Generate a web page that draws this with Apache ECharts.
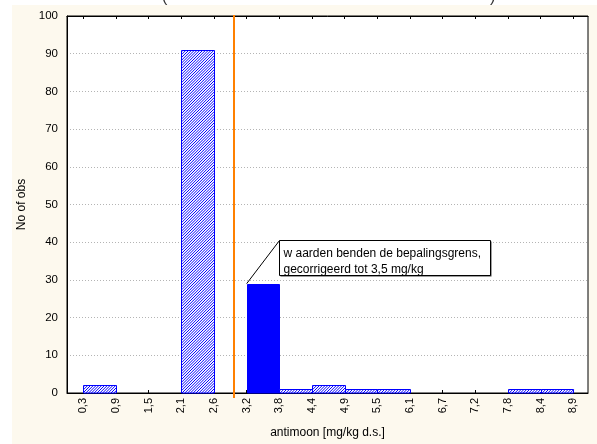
<!DOCTYPE html>
<html><head><meta charset="utf-8">
<script src="https://cdn.jsdelivr.net/npm/echarts@6/dist/echarts.min.js"></script>
<style>
html,body{margin:0;padding:0;background:#fff;}
#bg{position:absolute;left:12px;top:5px;width:585px;height:439px;background:#fdf9ee;}
#c{position:absolute;left:0;top:0;width:597px;height:444px;}
</style>
</head><body><div id="bg"></div><div id="c"></div>
<script>
// ---- data ----
const binEdgeLabels = ['0,3','0,9','1,5','2,1','2,6','3,2','3,8','4,4','4,9','5,5','6,1','6,7','7,2','7,8','8,4','8,9'];
const binCounts = [2, 0, 0, 91, 0, 29, 1, 2, 1, 1, 0, 0, 0, 1, 1];
const correctedBin = 5;          // bin whose values were corrected (solid bar)
const limitPosition = 4.62;      // orange line, in bin-edge index units
const xAxisName = 'antimoon [mg/kg d.s.]';
const yAxisName = 'No of obs';
const noteLines = ['w aarden benden de bepalingsgrens,', 'gecorrigeerd tot 3,5 mg/kg'];

const FONT = '"Liberation Sans", Arial, sans-serif';
const edgeIdx = binEdgeLabels.map((_, i) => i);

function hatchPath(x0, y0, x1, y1, step) {
  let d = '';
  for (let c = x0 + y0 + step / 2; c < x1 + y1; c += step) {
    const xa = Math.max(x0, c - y1), xb = Math.min(x1, c - y0);
    if (xb <= xa) continue;
    d += 'M' + xa.toFixed(2) + ' ' + (c - xa).toFixed(2) + 'L' + xb.toFixed(2) + ' ' + (c - xb).toFixed(2);
  }
  return d;
}

const chart = echarts.init(document.getElementById('c'), null, { renderer: 'canvas' });
const xMin = -0.5, xMax = 15.45;
chart.setOption({
  backgroundColor: 'transparent',
  animation: false,
  textStyle: { fontFamily: FONT },
  grid: { left: 67, top: 16, right: 9, bottom: 49, show: true, backgroundColor: '#ffffff', borderColor: '#000', borderWidth: 1 },
  xAxis: [{
    type: 'value', min: xMin, max: xMax, position: 'bottom',
    name: xAxisName, nameLocation: 'middle', nameGap: 34,
    nameTextStyle: { fontSize: 12, color: '#000', fontFamily: FONT },
    axisLine: { show: true, onZero: false, lineStyle: { color: '#000', width: 1 } },
    axisTick: { show: true, inside: true, length: 3, customValues: edgeIdx, lineStyle: { color: '#000' } },
    axisLabel: { show: true, customValues: edgeIdx, rotate: 90, margin: 5, fontSize: 11, color: '#000', fontFamily: FONT,
      formatter: v => binEdgeLabels[Math.round(v)] },
    splitLine: { show: false }
  }, {
    type: 'value', min: xMin, max: xMax, position: 'top',
    axisLine: { show: true, onZero: false, lineStyle: { color: '#000', width: 1 } },
    axisTick: { show: true, inside: true, length: 3, customValues: edgeIdx, lineStyle: { color: '#000' } },
    axisLabel: { show: false },
    splitLine: { show: false }
  }],
  yAxis: {
    type: 'value', min: 0, max: 100, interval: 10,
    name: yAxisName, nameLocation: 'middle', nameGap: 36,
    nameTextStyle: { fontSize: 12, color: '#000', fontFamily: FONT },
    axisLine: { show: true, onZero: false, lineStyle: { color: '#000', width: 1 } },
    axisTick: { show: false },
    axisLabel: { fontSize: 11.5, color: '#000', margin: 9, fontFamily: FONT },
    splitLine: { show: true, lineStyle: { color: '#b4b4b4', type: [1, 2], width: 1 } }
  },
  series: [{
    type: 'custom', xAxisIndex: 0, yAxisIndex: 0,
    data: binCounts.map((c, i) => [i, c]),
    renderItem: (params, api) => {
      const i = api.value(0), v = api.value(1);
      if (!v) return null;
      const p0 = api.coord([i, v]), p1 = api.coord([i + 1, 0]);
      const x0 = Math.round(p0[0]) + 0.5, x1 = Math.round(p1[0]) + 0.5;
      const y0 = Math.round(p0[1]) + 0.5, y1 = Math.round(p1[1]);
      const rect = { x: x0, y: y0, width: x1 - x0, height: y1 - y0 };
      if (i === correctedBin) {
        return { type: 'rect', shape: rect, style: { fill: '#0000ff', stroke: '#0000ff', lineWidth: 1 } };
      }
      return {
        type: 'group',
        children: [
          { type: 'rect', shape: rect, style: { fill: '#ffffff', stroke: null } },
          { type: 'path', shape: { pathData: hatchPath(x0, y0, x1, y1, 2.8) },
            style: { fill: null, stroke: '#0000ff', lineWidth: 1 } },
          { type: 'rect', shape: rect, style: { fill: null, stroke: '#0000ff', lineWidth: 1 } }
        ]
      };
    }
  }]
});

// annotation & limit line placed via the chart's own scales
const barTop = chart.convertToPixel({ xAxisIndex: 0, yAxisIndex: 0 }, [correctedBin, binCounts[correctedBin]]);
const lx = chart.convertToPixel({ xAxisIndex: 0 }, limitPosition);
const gTop = 16, gBottom = 444 - 49;
const bx = Math.round(barTop[0]) + 32.5, by = Math.round(barTop[1]) - 43.5, bw = 211, bh = 35;
chart.setOption({
  graphic: [
    { type: 'line', z: 50, shape: { x1: Math.round(lx), y1: gTop - 1, x2: Math.round(lx), y2: gBottom + 3 },
      style: { stroke: '#ff8000', lineWidth: 2 } },
    { type: 'line', z: 50, shape: { x1: barTop[0], y1: barTop[1], x2: bx, y2: by }, style: { stroke: '#000', lineWidth: 1 } },
    { type: 'rect', z: 50, shape: { x: bx + 1, y: by + 1, width: bw, height: bh }, style: { fill: '#404040' } },
    { type: 'rect', z: 51, shape: { x: bx, y: by, width: bw, height: bh }, style: { fill: '#fff', stroke: '#000', lineWidth: 1 } },
    { type: 'text', z: 52, x: bx + 4, y: by + 19, style: { text: noteLines[0], font: '12px ' + FONT, fill: '#000', textVerticalAlign: 'bottom' } },
    { type: 'text', z: 52, x: bx + 4, y: by + 35, style: { text: noteLines[1], font: '12px ' + FONT, fill: '#000', textVerticalAlign: 'bottom' } },
    { type: 'text', z: 52, x: 162, y: 6, style: { text: '(', font: '16px ' + FONT, fill: '#333', textVerticalAlign: 'bottom' } },
    { type: 'text', z: 52, x: 490, y: 6, style: { text: ')', font: '16px ' + FONT, fill: '#333', textVerticalAlign: 'bottom' } }
  ]
});
</script>
</body></html>
